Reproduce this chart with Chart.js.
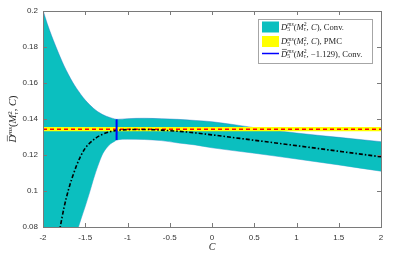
<!DOCTYPE html>
<html>
<head>
<meta charset="utf-8">
<script src="https://cdn.jsdelivr.net/npm/chart.js@4/dist/chart.umd.min.js"></script>
<style>
  html, body { margin: 0; padding: 0; background: #fff; }
  #wrap { width: 398px; height: 256px; }
</style>
</head>
<body>
<div id="wrap"><canvas id="grafico" width="398" height="256"></canvas></div>
<script>
// band of the conventional scale setting, C from -2 to 2
const bandC = [-2, -1.95, -1.9, -1.85, -1.8, -1.75, -1.7, -1.65, -1.6, -1.55, -1.5, -1.45, -1.4, -1.35, -1.3, -1.25, -1.2, -1.15, -1.129, -1, -0.8, -0.6, -0.4, -0.2, 0, 0.5, 1, 1.5, 2];
const bandUpper = [0.2005, 0.193, 0.1865, 0.1805, 0.1748, 0.1695, 0.1648, 0.1605, 0.1568, 0.1535, 0.1505, 0.148, 0.1458, 0.144, 0.1426, 0.1415, 0.1407, 0.14, 0.1398, 0.1402, 0.1404, 0.1402, 0.1398, 0.1392, 0.1385, 0.1352, 0.1322, 0.1298, 0.1274];
const bandLower = [0, 0.012, 0.024, 0.036, 0.047, 0.057, 0.066, 0.074, 0.0775, 0.0845, 0.0915, 0.099, 0.107, 0.114, 0.12, 0.1238, 0.1262, 0.1277, 0.1283, 0.1288, 0.1286, 0.128, 0.1267, 0.1256, 0.124, 0.121, 0.1178, 0.1145, 0.111];

// fixed-C curve (dash-dot)
const curvaC = [-1.85, -1.8, -1.75, -1.7, -1.65, -1.6, -1.55, -1.5, -1.45, -1.4, -1.35, -1.3, -1.2, -1.1, -1, -0.8, -0.6, -0.4, -0.2, 0, 0.5, 1, 1.5, 2];
const curvaY = [0.066, 0.079, 0.091, 0.1005, 0.108, 0.1145, 0.1198, 0.1238, 0.1265, 0.1285, 0.1302, 0.1314, 0.133, 0.1338, 0.1341, 0.1342, 0.1338, 0.1332, 0.1323, 0.1312, 0.1282, 0.1252, 0.1221, 0.119];

// PMC band
const pmcC = [-2, 2];
const pmcAlto = [0.1355, 0.1355];
const pmcBaixo = [0.1332, 0.1332];
const pmcCentro = [0.1343, 0.1343];

// C = -1.129 marker
const fixoC = [-1.129, -1.129];
const fixoY = [0.1283, 0.1398];

const xTicks = [-2, -1.5, -1, -0.5, 0, 0.5, 1, 1.5, 2];
const xTickLabels = ["-2", "-1.5", "-1", "-0.5", "0", "0.5", "1", "1.5", "2"];
const yTicks = [0.08, 0.1, 0.12, 0.14, 0.16, 0.18, 0.2];
const yTickLabels = ["0.08", "0.1", "0.12", "0.14", "0.16", "0.18", "0.2"];

const pontos = (xs, ys) => xs.map((x, i) => ({ x, y: ys[i] }));

const TEAL = "#0bbfbf";
const SERIF = '"Liberation Serif", "DejaVu Serif", serif';

// texto com indices: {t, it, pos: 'sup'|'sub', hold, bar}
function textoRico(ctx, x, y, partes, fs, medir) {
  let cx = x;
  let preso = 0;
  for (const p of partes) {
    const tam = p.pos ? fs * 0.68 : fs;
    ctx.font = `${p.it ? "italic " : ""}${tam}px ${SERIF}`;
    const w = ctx.measureText(p.t).width;
    let dy = 0;
    if (p.pos === "sup") dy = -fs * 0.4;
    if (p.pos === "sub") dy = fs * 0.22;
    if (!medir) {
      ctx.fillText(p.t, cx, y + dy);
      if (p.bar) {
        ctx.save();
        ctx.lineWidth = 0.6;
        ctx.beginPath();
        ctx.moveTo(cx + w * 0.15, y - fs * 0.82);
        ctx.lineTo(cx + w * 0.95, y - fs * 0.82);
        ctx.strokeStyle = ctx.fillStyle;
        ctx.stroke();
        ctx.restore();
      }
    }
    if (p.hold) { preso = w; continue; }
    cx += Math.max(w, preso);
    preso = 0;
  }
  return cx - x;
}

function rotuloD(barra, arg, fim) {
  return [
    { t: "D", it: true, bar: barra },
    { t: "ms", it: true, pos: "sup", hold: true },
    { t: "5", pos: "sub" },
    { t: "(" },
    { t: "M", it: true },
    { t: "2", pos: "sup", hold: true },
    { t: "τ", it: true, pos: "sub" },
    { t: ", " },
    ...arg,
    { t: ")" + fim }
  ];
}

const eixosPlugin = {
  id: "eixos",
  afterDraw(chart) {
    const ctx = chart.ctx;
    const a = chart.chartArea;
    const sx = chart.scales.x, sy = chart.scales.y;
    ctx.save();
    ctx.strokeStyle = "#7a7a7a";
    ctx.lineWidth = 1;
    ctx.strokeRect(Math.round(a.left) + 0.5, Math.round(a.top) + 0.5, Math.round(a.right - a.left), Math.round(a.bottom - a.top));
    ctx.beginPath();
    xTicks.forEach(v => {
      const px = Math.round(sx.getPixelForValue(v)) + 0.5;
      ctx.moveTo(px, a.bottom); ctx.lineTo(px, a.bottom - 4);
      ctx.moveTo(px, a.top); ctx.lineTo(px, a.top + 4);
    });
    yTicks.forEach(v => {
      const py = Math.round(sy.getPixelForValue(v)) + 0.5;
      ctx.moveTo(a.left, py); ctx.lineTo(a.left + 4, py);
      ctx.moveTo(a.right, py); ctx.lineTo(a.right - 4, py);
    });
    ctx.stroke();

    // titulos dos eixos
    ctx.fillStyle = "#262626";
    ctx.textBaseline = "alphabetic";
    ctx.font = `italic 10px ${SERIF}`;
    ctx.textAlign = "center";
    ctx.fillText("C", (a.left + a.right) / 2, 250);
    ctx.textAlign = "left";

    const yPartes = [
      { t: "D", it: true, bar: true },
      { t: "ms", it: true, pos: "sup" },
      { t: "(" },
      { t: "M", it: true },
      { t: "2", pos: "sup", hold: true },
      { t: "τ", it: true, pos: "sub" },
      { t: ", " },
      { t: "C", it: true },
      { t: ")" }
    ];
    const larg = textoRico(ctx, 0, 0, yPartes, 10.5, true);
    ctx.save();
    ctx.translate(16, (a.top + a.bottom) / 2);
    ctx.rotate(-Math.PI / 2);
    textoRico(ctx, -larg / 2, 0, yPartes, 10.5, false);
    ctx.restore();

    // legenda
    const lx = 258.5, ly = 19.5, lw = 114, lh = 44;
    ctx.fillStyle = "#fff";
    ctx.fillRect(lx, ly, lw, lh);
    ctx.strokeStyle = "#a6a6a6";
    ctx.strokeRect(lx, ly, lw, lh);
    ctx.fillStyle = TEAL;
    ctx.fillRect(262, 21.5, 17, 11);
    ctx.fillStyle = "#ffff00";
    ctx.fillRect(262, 36, 17, 11);
    ctx.strokeStyle = "#0000ff";
    ctx.lineWidth = 1.5;
    ctx.beginPath();
    ctx.moveTo(262, 53.5); ctx.lineTo(279, 53.5);
    ctx.stroke();
    ctx.fillStyle = "#262626";
    const fs = 8.6;
    textoRico(ctx, 281, 29.5, rotuloD(false, [{ t: "C", it: true }], ", Conv."), fs, false);
    textoRico(ctx, 281, 44, rotuloD(false, [{ t: "C", it: true }], ", PMC"), fs, false);
    textoRico(ctx, 281, 56.5, rotuloD(true, [{ t: "−1.129" }], ", Conv."), fs, false);
    ctx.restore();
  }
};

const ctx = document.getElementById("grafico").getContext("2d");

new Chart(ctx, {
  type: "line",
  data: {
    datasets: [
      { data: pontos(fixoC, fixoY), borderColor: "#0000ff", borderWidth: 2, order: 0 },
      { data: pontos(curvaC, curvaY), borderColor: "#000", borderWidth: 1.6, borderDash: [4, 2, 1.5, 2], cubicInterpolationMode: "monotone", order: 1 },
      { data: pontos(pmcC, pmcCentro), borderColor: "#ff0000", borderWidth: 1.4, borderDash: [4, 3], order: 2 },
      { data: pontos(pmcC, pmcAlto), borderColor: "#ffff00", borderWidth: 0, backgroundColor: "#ffff00", fill: 4, order: 3 },
      { data: pontos(pmcC, pmcBaixo), borderColor: "#ffff00", borderWidth: 0, order: 4 },
      { data: pontos(bandC, bandUpper), borderColor: "rgba(40,120,200,0.55)", borderWidth: 0.8, backgroundColor: TEAL, fill: 6, cubicInterpolationMode: "monotone", order: 5 },
      { data: pontos(bandC, bandLower), borderColor: "rgba(40,120,200,0.55)", borderWidth: 0.8, cubicInterpolationMode: "monotone", order: 6 }
    ]
  },
  options: {
    responsive: false,
    animation: false,
    events: [],
    elements: { point: { radius: 0 }, line: { tension: 0 } },
    layout: { padding: { top: 11, right: 17, left: 0, bottom: 0 } },
    plugins: { legend: { display: false }, tooltip: { enabled: false } },
    scales: {
      x: {
        type: "linear", min: -2, max: 2,
        afterFit: s => { s.height = 29; },
        afterBuildTicks: s => { s.ticks = xTicks.map(v => ({ value: v })); },
        grid: { display: false, drawTicks: false },
        border: { display: false },
        ticks: {
          padding: 6, color: "#333", maxRotation: 0, autoSkip: false,
          font: { family: '"Liberation Sans", Arial, sans-serif', size: 8 },
          callback: v => xTickLabels[xTicks.indexOf(v)]
        }
      },
      y: {
        type: "linear", min: 0.08, max: 0.2,
        afterFit: s => { s.width = 43; },
        afterBuildTicks: s => { s.ticks = yTicks.map(v => ({ value: v })); },
        grid: { display: false, drawTicks: false },
        border: { display: false },
        ticks: {
          padding: 5, color: "#333", autoSkip: false,
          font: { family: '"Liberation Sans", Arial, sans-serif', size: 8 },
          callback: v => yTickLabels[yTicks.indexOf(v)]
        }
      }
    }
  },
  plugins: [eixosPlugin]
});
</script>
</body>
</html>
